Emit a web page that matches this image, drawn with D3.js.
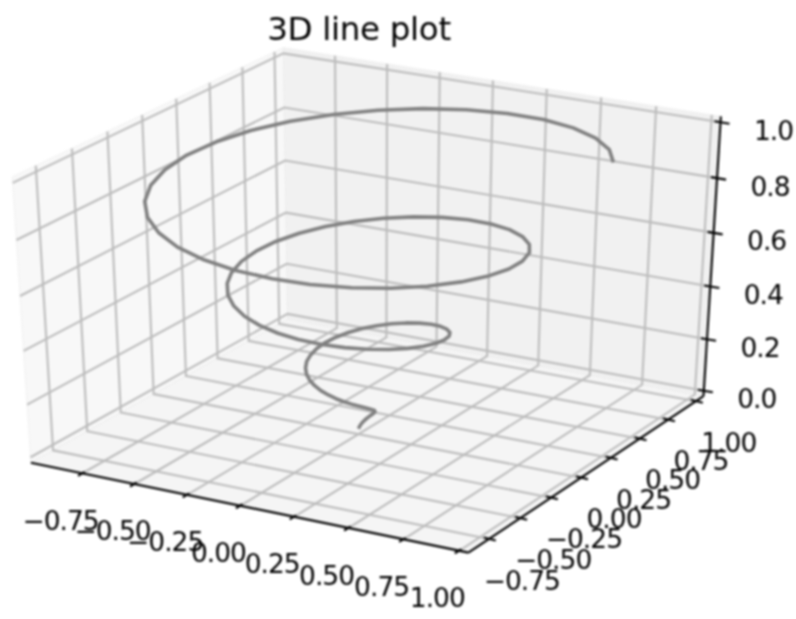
<!DOCTYPE html>
<html><head><meta charset="utf-8">
<script src="https://cdn.jsdelivr.net/npm/d3@7"></script>
<style>html,body{margin:0;padding:0;background:#fff}svg{display:block;filter:blur(0.8px)}</style>
</head><body><svg id="c" width="796" height="619"></svg>
<script>
const lineZ=[0,.01,.02,.03,.04,.05,.06,.07,.08,.09,.10,.11,.12,.13,.14,.15,.16,.17,.18,.19,.20,.21,.22,.23,.24,.25,.26,.27,.28,.29,.30,.31,.32,.33,.34,.35,.36,.37,.38,.39,.40,.41,.42,.43,.44,.45,.46,.47,.48,.49,.50,.51,.52,.53,.54,.55,.56,.57,.58,.59,.60,.61,.62,.63,.64,.65,.66,.67,.68,.69,.70,.71,.72,.73,.74,.75,.76,.77,.78,.79,.80,.81,.82,.83,.84,.85,.86,.87,.88,.89,.90,.91,.92,.93,.94,.95,.96,.97,.98,.99,1];
const lineX=[0,.002,.008,.017,.029,.042,.056,.069,.080,.088,.091,.089,.081,.067,.047,.021,-.009,-.043,-.080,-.116,-.151,-.183,-.209,-.229,-.239,-.240,-.230,-.209,-.177,-.135,-.084,-.026,.037,.103,.168,.230,.286,.333,.368,.389,.396,.386,.359,.316,.257,.185,.103,.008,-.084,-.180,-.272,-.357,-.430,-.491,-.530,-.550,-.548,-.524,-.477,-.409,-.322,-.219,-.103,.021,.148,.273,.391,.496,.584,.651,.693,.709,.695,.655,.583,.488,.370,.228,.084,-.073,-.230,-.383,-.523,-.646,-.746,-.817,-.857,-.864,-.834,-.772,-.676,-.550,-.400,-.230,-.047,.142,.330,.507,.668,.805,.913];
const lineY=[0,.010,.018,.025,.028,.027,.022,.012,-.002,-.020,-.042,-.065,-.088,-.111,-.132,-.149,-.160,-.164,-.161,-.150,-.131,-.103,-.068,-.026,.021,.071,.122,.171,.217,.257,.288,.309,.318,.314,.296,.264,.219,.162,.095,.021,-.058,-.139,-.218,-.292,-.357,-.410,-.448,-.470,-.473,-.456,-.420,-.364,-.292,-.200,-.105,.002,.114,.224,.330,.425,.506,.569,.611,.630,.623,.590,.532,.450,.348,.228,.096,-.041,-.187,-.321,-.455,-.570,-.664,-.735,-.775,-.787,-.766,-.714,-.631,-.521,-.387,-.234,-.068,.105,.280,.443,.594,.725,.829,.901,.939,.939,.902,.827,.717,.576,.408];
const xTicks=[-.75,-.5,-.25,0,.25,.5,.75,1];
const yTicks=[-.75,-.5,-.25,0,.25,.5,.75,1];
const zTicks=[0,.2,.4,.6,.8,1];
const xLim=[-.96,1.0], yLim=[-.87,1.03], zLim=[0,1];
const title="3D line plot";

const svg=d3.select("#c");
const nx=d3.scaleLinear().domain(xLim).range([-.5,.5]);
const ny=d3.scaleLinear().domain(yLim).range([-.5,.5]);
const nz=d3.scaleLinear().domain(zLim).range([-.5,.5]);
const sx=d3.scaleLinear().domain([-.07,.07]).range([33.2,712]);
const sy=d3.scaleLinear().domain([-.08,.08]).range([541.75,40.6]);
const el=30*Math.PI/180, az=-60*Math.PI/180, dist=10, tilt=28;
const n=[Math.cos(az)*Math.cos(el),Math.sin(az)*Math.cos(el),Math.sin(el)];
const u=[-Math.sin(az),Math.cos(az),0];
const v=[-Math.sin(el)*Math.cos(az),-Math.sin(el)*Math.sin(az),Math.cos(el)];
const dot=(a,b)=>a[0]*b[0]+a[1]*b[1]+a[2]*b[2];
function P(x,y,z){
  const q=[nx(x),ny(y),nz(z)], d=dist-dot(n,q), a=dot(u,q)/d;
  return [sx(a),sy(dot(v,q)/d)-tilt*a];
}
const pad=l=>[l[0]-(l[1]-l[0])/48,l[1]+(l[1]-l[0])/48];
const [x0,x1]=pad(xLim),[y0,y1]=pad(yLim),[z0,z1]=pad(zLim);
const line=d3.line();
const poly=pts=>line(pts)+"Z";

// panes
const paneStroke="rgba(235,235,235,0.7)";
svg.append("path").attr("d",poly([P(x0,y0,z0),P(x0,y1,z0),P(x0,y1,z1),P(x0,y0,z1)])).attr("fill","#f8f8f8").attr("stroke",paneStroke);
svg.append("path").attr("d",poly([P(x0,y1,z0),P(x1,y1,z0),P(x1,y1,z1),P(x0,y1,z1)])).attr("fill","#f1f1f1").attr("stroke",paneStroke);
svg.append("path").attr("d",poly([P(x0,y0,z0),P(x1,y0,z0),P(x1,y1,z0),P(x0,y1,z0)])).attr("fill","#f5f5f5").attr("stroke",paneStroke);

// grid
const grid=svg.append("g").attr("fill","none").attr("stroke","#bcbcbc").attr("stroke-width",2.1);
xTicks.forEach(t=>grid.append("path").attr("d",line([P(t,y0,z0),P(t,y1,z0),P(t,y1,z1)])));
yTicks.forEach(t=>grid.append("path").attr("d",line([P(x1,t,z0),P(x0,t,z0),P(x0,t,z1)])));
zTicks.forEach(t=>grid.append("path").attr("d",line([P(x0,y0,t),P(x0,y1,t),P(x1,y1,t)])));

// axis lines
const ax=svg.append("g").attr("fill","none").attr("stroke","#000").attr("stroke-width",2.1);
ax.append("path").attr("d",line([P(x0,y0,z0),P(x1,y0,z0)]));
ax.append("path").attr("d",line([P(x1,y0,z0),P(x1,y1,z0)]));
ax.append("path").attr("d",line([P(x1,y1,z0),P(x1,y1,z1)]));

const fmt2=d3.format(".2f"), fmt1=d3.format(".1f");
const lab=svg.append("g").attr("font-family","'DejaVu Sans'").attr("font-size",26.5).attr("letter-spacing",-1).attr("fill","#000").attr("text-anchor","middle").attr("dominant-baseline","central");
function tick(p,a,b){ax.append("path").attr("d",line([[p[0]+a[0],p[1]+a[1]],[p[0]+b[0],p[1]+b[1]]]));}
xTicks.forEach(t=>{const p=P(t,y0,z0);tick(p,[-4.5,2.5],[2,-1.5]);
  lab.append("text").attr("x",p[0]-22).attr("y",p[1]+47).text(fmt2(t).replace("-","\u2212"));});
yTicks.forEach(t=>{const p=P(x1,t,z0);tick(p,[-5,-1.5],[7,1.5]);
  lab.append("text").attr("x",p[0]+33).attr("y",p[1]+41).text(fmt2(t).replace("-","\u2212"));});
zTicks.forEach(t=>{const p=P(x1,y1,t);tick(p,[-6,-1],[9,1.5]);
  lab.append("text").attr("x",p[0]+53).attr("y",p[1]+8).text(fmt1(t));});

// curve
svg.append("path").attr("d",line(lineZ.map((z,i)=>P(lineX[i],lineY[i],z))))
  .attr("fill","none").attr("stroke","#808080").attr("stroke-width",3.6).attr("stroke-linejoin","round");

svg.append("text").attr("x",359).attr("y",40).attr("text-anchor","middle").attr("font-family","'DejaVu Sans'").attr("font-size",32.5).attr("letter-spacing",-.3).attr("fill","#000").text(title);
</script></body></html>
